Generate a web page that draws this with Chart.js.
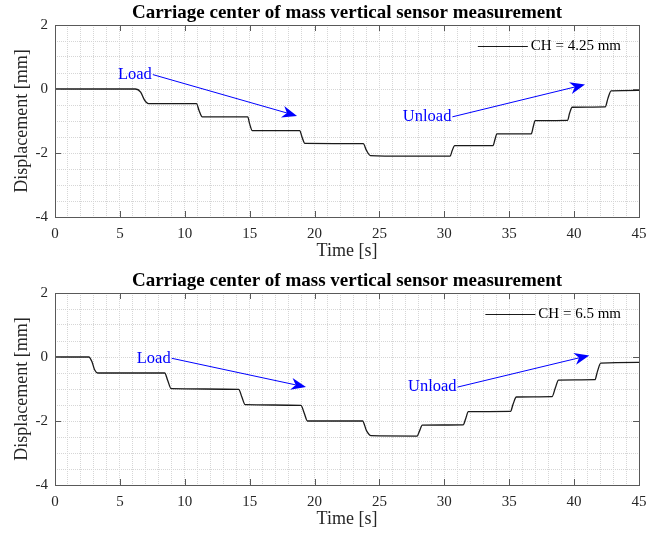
<!DOCTYPE html>
<html lang="en">
<head>
<meta charset="UTF-8">
<title>Carriage center of mass vertical sensor measurement</title>
<script src="https://cdn.jsdelivr.net/npm/chart.js"></script>
<style>
  body { margin: 0; background: #fff; }
  .box { width: 660px; height: 268px; }
  canvas { display: block; }
</style>
</head>
<body>
<div class="box"><canvas id="topChart" width="660" height="268"></canvas></div>
<div class="box"><canvas id="bottomChart" width="660" height="268"></canvas></div>
<script>
// labels
const chartTitle = 'Carriage center of mass vertical sensor measurement';
const xTitle = 'Time [s]';
const yTitle = 'Displacement [mm]';
const xTickLabels = [0, 5, 10, 15, 20, 25, 30, 35, 40, 45];
const yTickLabels = [2, 0, -2, -4];

// top run, CH = 4.25 mm
const labelA = 'CH = 4.25 mm';
const timeA = [0, 6.2, 6.6, 6.9, 7.2, 10.9, 11.1, 11.35, 14.85, 15.0, 15.2, 18.85, 19.05, 19.25,
  23.75, 24.0, 24.3, 27.0, 30.45, 30.6, 30.8, 33.75, 33.9, 34.05, 36.7, 36.85, 37.0,
  39.5, 39.65, 39.85, 42.4, 42.6, 42.85, 45];
const dispA = [0, 0, -0.1, -0.35, -0.46, -0.46, -0.67, -0.87, -0.87, -1.09, -1.3, -1.3, -1.52, -1.7,
  -1.71, -1.92, -2.08, -2.1, -2.1, -1.93, -1.77, -1.77, -1.58, -1.4, -1.4, -1.18, -0.99,
  -0.98, -0.76, -0.57, -0.56, -0.3, -0.06, -0.04];
const notesA = [
  { text: 'Load', x: 4.85, y: 0.45, tipX: 18.65, tipY: -0.84 },
  { text: 'Unload', x: 26.8, y: -0.87, tipX: 40.84, tipY: 0.14 }
];

// bottom run, CH = 6.5 mm
const labelB = 'CH = 6.5 mm';
const timeB = [0, 2.6, 2.85, 3.05, 3.3, 8.45, 8.7, 8.95, 14.15, 14.4, 14.65, 18.95, 19.2, 19.45,
  23.7, 24.0, 24.35, 27.9, 28.1, 28.3, 31.45, 31.65, 31.85, 35.1, 35.3, 35.55,
  38.3, 38.55, 38.8, 41.6, 41.8, 42.05, 45];
const dispB = [0, 0, -0.15, -0.4, -0.5, -0.5, -0.75, -0.99, -1.01, -1.25, -1.49, -1.51, -1.75, -2.0,
  -2.0, -2.3, -2.46, -2.47, -2.3, -2.13, -2.12, -1.92, -1.71, -1.7, -1.47, -1.25,
  -1.24, -0.97, -0.72, -0.71, -0.45, -0.19, -0.17];
const notesB = [
  { text: 'Load', x: 6.3, y: -0.04, tipX: 19.34, tipY: -0.94 },
  { text: 'Unload', x: 27.2, y: -0.94, tipX: 41.17, tipY: 0.05 }
];

const serif = 'Liberation Serif';
const axisGray = '#595959';

// box, inward ticks, legend and the arrows, matlab style
const matlabBits = {
  id: 'matlabBits',
  afterDraw(chart, args, opts) {
    const ctx = chart.ctx;
    const a = chart.chartArea;
    const xs = chart.scales.x, ys = chart.scales.y;
    ctx.save();

    ctx.strokeStyle = axisGray;
    ctx.lineWidth = 1;
    ctx.beginPath();
    for (const v of xTickLabels) {
      const px = Math.round(xs.getPixelForValue(v)) + 0.5;
      ctx.moveTo(px, a.bottom); ctx.lineTo(px, a.bottom - 6);
      ctx.moveTo(px, a.top); ctx.lineTo(px, a.top + 6);
    }
    for (const v of yTickLabels) {
      const py = Math.round(ys.getPixelForValue(v)) + 0.5;
      ctx.moveTo(a.left, py); ctx.lineTo(a.left + 6, py);
      ctx.moveTo(a.right, py); ctx.lineTo(a.right - 6, py);
    }
    ctx.stroke();
    ctx.strokeRect(Math.round(a.left) + 0.5, Math.round(a.top) + 0.5,
      Math.round(a.right - a.left), Math.round(a.bottom - a.top));

    // legend, top right inside the axes
    const ds = chart.data.datasets[0];
    ctx.font = '15px ' + serif;
    ctx.textBaseline = 'middle';
    ctx.textAlign = 'left';
    const tw = ctx.measureText(ds.label).width;
    const ly = a.top + 21.5;
    const tx = a.right - 18 - tw;
    ctx.strokeStyle = ds.borderColor;
    ctx.lineWidth = 1;
    ctx.beginPath();
    ctx.moveTo(tx - 53, ly); ctx.lineTo(tx - 3, ly);
    ctx.stroke();
    ctx.fillStyle = '#000';
    ctx.fillText(ds.label, tx, ly);

    // Load / Unload arrows
    ctx.font = '16.5px ' + serif;
    for (const n of opts.notes) {
      const x0 = xs.getPixelForValue(n.x), y0 = ys.getPixelForValue(n.y);
      ctx.fillStyle = '#0000ff';
      ctx.fillText(n.text, x0, y0);
      const sx = x0 + ctx.measureText(n.text).width + 1;
      const ex = xs.getPixelForValue(n.tipX), ey = ys.getPixelForValue(n.tipY);
      const len = Math.hypot(ex - sx, ey - y0);
      const dx = (ex - sx) / len, dy = (ey - y0) / len;
      const L = 15, W = 6;
      ctx.strokeStyle = '#0000ff';
      ctx.lineWidth = 1;
      ctx.beginPath();
      ctx.moveTo(sx, y0);
      ctx.lineTo(ex - dx * L * 0.7, ey - dy * L * 0.7);
      ctx.stroke();
      ctx.beginPath();
      ctx.moveTo(ex, ey);
      ctx.lineTo(ex - dx * L - dy * W, ey - dy * L + dx * W);
      ctx.lineTo(ex - dx * L * 0.7, ey - dy * L * 0.7);
      ctx.lineTo(ex - dx * L + dy * W, ey - dy * L - dx * W);
      ctx.closePath();
      ctx.fill();
    }
    ctx.restore();
  }
};

function makeChart(id, times, values, label, notes) {
  const pts = times.map((t, i) => ({ x: t, y: values[i] }));
  return new Chart(document.getElementById(id), {
    type: 'line',
    data: {
      datasets: [{
        label: label,
        data: pts,
        borderColor: '#1a1a1a',
        borderWidth: 1.3,
        pointRadius: 0,
        cubicInterpolationMode: 'monotone',
        fill: false
      }]
    },
    options: {
      responsive: false,
      animation: false,
      layout: { padding: { left: 0, right: 21, top: 0, bottom: 0 } },
      scales: {
        x: {
          type: 'linear',
          min: 0, max: 45,
          afterFit: s => { s.height = 51; },
          border: { display: false, dash: [1, 1] },
          grid: { color: '#d6d6d6', drawTicks: false, tickLength: 0 },
          ticks: {
            stepSize: 1, autoSkip: false, maxRotation: 0, padding: 8, maxTicksLimit: 100,
            color: '#262626', font: { family: serif, size: 15 },
            callback: v => xTickLabels.includes(v) ? String(v) : ''
          },
          title: { display: true, text: xTitle, color: '#262626',
            font: { family: serif, size: 18 }, padding: { top: 0, bottom: 6 } }
        },
        y: {
          min: -4, max: 2,
          afterFit: s => { s.width = 55; },
          border: { display: false, dash: [1, 1] },
          grid: { color: '#d6d6d6', drawTicks: false, tickLength: 0 },
          ticks: {
            stepSize: 0.5, autoSkip: false, padding: 7, maxTicksLimit: 100,
            color: '#262626', font: { family: serif, size: 15 },
            callback: v => yTickLabels.includes(v) ? String(v) : ''
          },
          title: { display: true, text: yTitle, color: '#262626',
            font: { family: serif, size: 18 }, padding: { top: 11, bottom: 0 } }
        }
      },
      plugins: {
        legend: { display: false },
        tooltip: { enabled: false },
        title: {
          display: true, text: chartTitle, fullSize: false, color: '#000',
          font: { family: serif, size: 19, weight: 'bold' },
          padding: { top: 2, bottom: 0.2 }
        },
        matlabBits: { notes: notes }
      }
    },
    plugins: [matlabBits]
  });
}

makeChart('topChart', timeA, dispA, labelA, notesA);
makeChart('bottomChart', timeB, dispB, labelB, notesB);
</script>
</body>
</html>
